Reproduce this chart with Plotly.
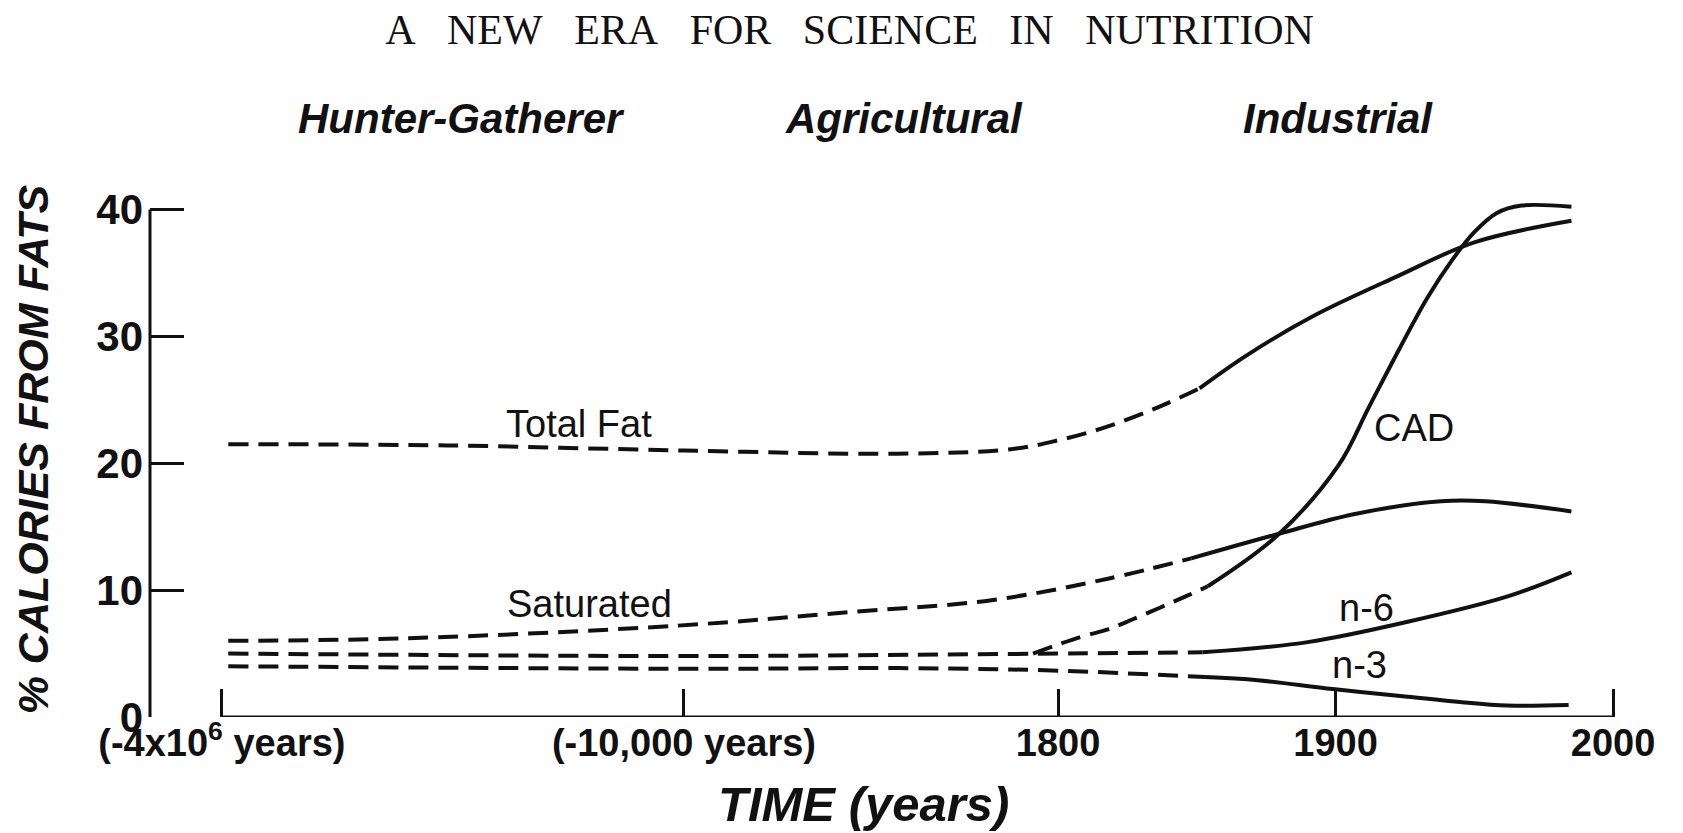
import plotly.graph_objects as go

# time axis is broken: 1800-2000 is linear in years, the two earlier eras
# are squeezed in front of it, so x values are positions on that scale
tick_pos = [1498.7, 1665.2, 1800, 1900, 2000]
tick_text = ["(-4x10<sup>6</sup> years)", "(-10,000 years)", "1800", "1900", "2000"]

era_names = ["Hunter-Gatherer", "Agricultural", "Industrial"]
era_pos = [1585, 1744.5, 1901]

# dashed = estimated part, solid = recorded part
total_fat_est_x = [1501, 1580, 1665, 1742, 1783, 1800, 1818, 1836, 1851]
total_fat_est_y = [21.5, 21.4, 21.0, 20.75, 21.1, 21.8, 22.9, 24.4, 25.9]
total_fat_x = [1851, 1868, 1892, 1922, 1950, 1985]
total_fat_y = [25.9, 28.5, 31.6, 34.7, 37.4, 39.1]

saturated_est_x = [1501, 1565, 1663, 1727, 1776, 1818, 1848]
saturated_est_y = [6.0, 6.2, 7.2, 8.3, 9.2, 10.9, 12.5]
saturated_x = [1848, 1879, 1907, 1938, 1954, 1985]
saturated_y = [12.5, 14.4, 16.0, 17.0, 17.0, 16.2]

n6_est_x = [1501, 1665, 1746, 1852]
n6_est_y = [5.0, 4.8, 4.9, 5.1]
n6_x = [1852, 1890, 1926, 1962, 1985]
n6_y = [5.1, 5.9, 7.5, 9.5, 11.4]

n3_est_x = [1501, 1669, 1746, 1800, 1853]
n3_est_y = [4.0, 3.8, 3.85, 3.65, 3.15]
n3_x = [1853, 1872, 1899, 1926, 1944, 1962, 1984]
n3_y = [3.15, 2.9, 2.2, 1.6, 1.2, 0.9, 0.95]

cad_est_x = [1791, 1808, 1818, 1827, 1847, 1854]
cad_est_y = [5.0, 6.3, 6.9, 7.7, 9.6, 10.3]
cad_x = [1854, 1879, 1901, 1912, 1923, 1933, 1942, 1950, 1958, 1967, 1985]
cad_y = [10.3, 14.3, 19.8, 24.4, 29.0, 33.0, 36.0, 38.2, 39.7, 40.3, 40.2]

label_text = ["Total Fat", "Saturated", "CAD", "n-6", "n-3"]
label_x = [1627.4, 1631, 1928.3, 1911, 1908.8]
label_y = [23.1, 8.9, 22.8, 8.6, 4.1]

ink = "#111111"
sans = "Liberation Sans, Arial, sans-serif"

fig = go.Figure()

series = [
    (total_fat_est_x, total_fat_est_y, total_fat_x, total_fat_y),
    (saturated_est_x, saturated_est_y, saturated_x, saturated_y),
    (n6_est_x, n6_est_y, n6_x, n6_y),
    (n3_est_x, n3_est_y, n3_x, n3_y),
    (cad_est_x, cad_est_y, cad_x, cad_y),
]
for ex, ey, sx, sy in series:
    fig.add_trace(go.Scatter(x=ex, y=ey, mode="lines", line_shape="spline",
                             line=dict(color=ink, width=4, dash="20px,10px"),
                             showlegend=False, hoverinfo="skip"))
    fig.add_trace(go.Scatter(x=sx, y=sy, mode="lines", line_shape="spline",
                             line=dict(color=ink, width=4),
                             showlegend=False, hoverinfo="skip"))

# axis lines drawn by hand: the x line only spans the labelled ticks
fig.add_shape(type="line", xref="x", yref="y", x0=tick_pos[0], x1=tick_pos[-1], y0=0, y1=0,
              line=dict(color=ink, width=3))
fig.add_shape(type="line", xref="paper", yref="y", x0=0, x1=0, y0=0, y1=40,
              line=dict(color=ink, width=3))

for t, x, y in zip(label_text, label_x, label_y):
    fig.add_annotation(x=x, y=y, xref="x", yref="y", text=t, showarrow=False,
                       font=dict(family=sans, size=38, color=ink))

for t, x in zip(era_names, era_pos):
    fig.add_annotation(x=x, y=1.122, xref="x", yref="paper", text=t, showarrow=False,
                       yanchor="middle",
                       font=dict(family=sans, size=42, color=ink, weight="bold", style="italic"))

fig.add_annotation(x=-0.079, y=0.503, xref="paper", yref="paper", text="% CALORIES FROM FATS",
                   textangle=-90, showarrow=False, xanchor="center", yanchor="middle",
                   font=dict(family=sans, size=43, color=ink, weight="bold", style="italic"))
fig.add_annotation(x=1730, y=-0.163, xref="x", yref="paper", text="TIME (years)",
                   showarrow=False, xanchor="center", yanchor="middle",
                   font=dict(family=sans, size=49, color=ink, weight="bold", style="italic"))

sp = "\u00a0\u00a0\u00a0"
fig.update_layout(
    width=1683, height=833,
    margin=dict(l=142, r=53, t=176, b=124),
    paper_bgcolor="white", plot_bgcolor="white",
    title=dict(text=sp.join("A NEW ERA FOR SCIENCE IN NUTRITION".split()),
               x=0.5, xref="container", xanchor="center",
               y=1 - 21 / 833, yref="container", yanchor="middle",
               font=dict(family="Liberation Serif, Times New Roman, serif", size=42, color=ink)),
    xaxis=dict(range=[1472.8, 2009.0], tickvals=tick_pos, ticktext=tick_text,
               ticks="inside", ticklen=28, tickwidth=3, tickcolor=ink,
               showgrid=False, zeroline=False, showline=False,
               tickfont=dict(family=sans, size=38, color=ink, weight="bold")),
    yaxis=dict(range=[0, 42], tickvals=[0, 10, 20, 30, 40],
               ticks="inside", ticklen=34, tickwidth=3, tickcolor=ink,
               showgrid=False, zeroline=False, showline=False, ticklabelstandoff=6,
               tickfont=dict(family=sans, size=42, color=ink, weight="bold")),
)

fig.write_html("out.html")
